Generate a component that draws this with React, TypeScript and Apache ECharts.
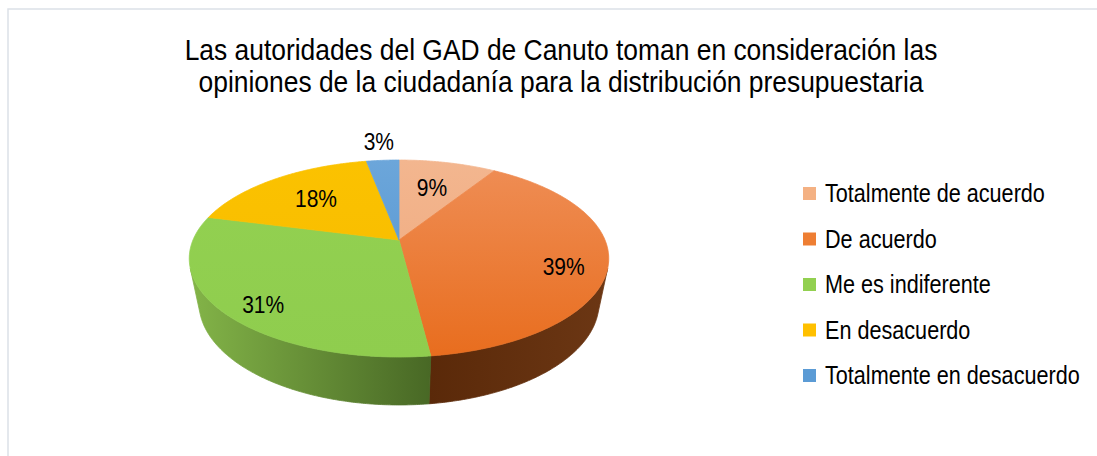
import { useEffect, useRef } from "react";
import * as echarts from "echarts";

// ---------- data ----------
const titleLines = [
  "Las autoridades del GAD de Canuto toman en consideración las",
  "opiniones de la ciudadanía para la distribución presupuestaria",
];
const categories = [
  "Totalmente de acuerdo",
  "De acuerdo",
  "Me es indiferente",
  "En desacuerdo",
  "Totalmente en desacuerdo",
];
const values = [9, 39, 31, 18, 3];
const percentLabels = ["9%", "39%", "31%", "18%", "3%"];

// ---------- styles ----------
const topColors = [
  ["#F3B68F", "#EFA87B"],
  ["#EF8E56", "#E86D1E"],
  ["#93D151", "#8FCD4E"],
  ["#FBC200", "#F7BA00"],
  ["#6CA6DA", "#4F92D0"],
];
const sideColors = [
  ["#9C6A4A", "#8A5A3C"],
  ["#5A2909", "#6C3714"],
  ["#83B448", "#486825"],
  ["#A07A00", "#8A6A00"],
  ["#3A6A96", "#2F5A80"],
];
const legendColors = ["#F4B183", "#EE7E33", "#92D050", "#FFC000", "#5B9BD5"];
const FONT = '"Liberation Sans", Arial, Helvetica, sans-serif';

// ---------- 3D projection of the pie ----------
const CX = 399;
const CY = 240;
const A = 206;
const B = 95;
const K = -0.188;
const M = 0.047;
const C = 46.7;

function pt(phi: number, r: number, h: number): number[] {
  const u = r * Math.sin(phi);
  const v = -r * Math.cos(phi);
  const w = 1 + K * v + M * h;
  return [CX + (A * u) / w, CY + (B * v + C * h) / w];
}

function arc(a: number, b: number, h: number): number[][] {
  const n = Math.max(2, Math.ceil((b - a) / (Math.PI / 360)));
  const out: number[][] = [];
  for (let j = 0; j <= n; j++) out.push(pt(a + ((b - a) * j) / n, 1, h));
  return out;
}

function crossAt(phi: number): number {
  const p = pt(phi, 1, 0);
  const p2 = pt(phi + 1e-4, 1, 0);
  const q = pt(phi, 1, 1);
  return (p2[0] - p[0]) * (q[1] - p[1]) - (p2[1] - p[1]) * (q[0] - p[0]);
}

function silhouette(): number {
  let lo = Math.PI / 2;
  let hi = (Math.PI * 3) / 4;
  for (let i = 0; i < 60; i++) {
    const mid = (lo + hi) / 2;
    if (crossAt(mid) >= 0) lo = mid;
    else hi = mid;
  }
  return (lo + hi) / 2;
}

export default function App() {
  const ref = useRef<HTMLDivElement>(null);

  useEffect(() => {
    if (!ref.current) return;
    const chart = echarts.init(ref.current, null, { renderer: "svg" });

    const total = values.reduce((s, v) => s + v, 0);
    const starts: number[] = [];
    let acc = 0;
    values.forEach((v) => {
      starts.push((acc / total) * Math.PI * 2);
      acc += v;
    });
    const angleOf = (i: number) => [starts[i], starts[i] + (values[i] / total) * Math.PI * 2];
    const phiS = silhouette();
    const visA = phiS;
    const visB = Math.PI * 2 - phiS;

    const seriesData = values.map((v, i) => ({ name: categories[i], value: [i, v] }));

    const option: any = {
      animation: false,
      backgroundColor: "#ffffff",
      graphic: {
        elements: [
          {
            type: "rect",
            z: -10,
            shape: { x: 8, y: 9, width: 1100, height: 460 },
            style: { fill: "none", stroke: "#DCE1E8", lineWidth: 1.5 },
          },
          ...titleLines.map((t, i) => ({
            type: "text",
            x: 561,
            y: 49 + i * 32.5,
            scaleX: 0.88,
            style: {
              text: t,
              fontSize: 30,
              fontFamily: FONT,
              fill: "#000000",
              align: "center",
              verticalAlign: "middle",
            },
          })),
          ...categories.map((name, i) => ({
            type: "group",
            children: [
              {
                type: "rect",
                shape: { x: 803, y: 193.5 + i * 45.5 - 6.5, width: 13, height: 13 },
                style: { fill: legendColors[i] },
              },
              {
                type: "text",
                x: 825,
                y: 193.5 + i * 45.5,
                scaleX: 0.865,
                style: {
                  text: name,
                  fontSize: 25,
                  fontFamily: FONT,
                  fill: "#000000",
                  align: "left",
                  verticalAlign: "middle",
                },
              },
            ],
          })),
        ],
      },
      series: [
        {
          type: "custom",
          name: "sides",
          coordinateSystem: "none",
          silent: true,
          z: 1,
          data: seriesData,
          renderItem: (params: any, api: any) => {
            const i = params.dataIndex;
            const [a0, b0] = angleOf(i);
            const a = Math.max(a0, visA);
            const b = Math.min(b0, visB);
            if (b <= a) return { type: "group", children: [] };
            const topArc = arc(a, b, 0);
            const botArc = arc(a, b, 1).reverse();
            const fill = new echarts.graphic.LinearGradient(0, 0, 1, 0, [
              { offset: 0, color: sideColors[i][0] },
              { offset: 1, color: sideColors[i][1] },
            ]);
            return {
              type: "polygon",
              shape: { points: topArc.concat(botArc) },
              style: { fill, stroke: fill, lineWidth: 0.8, lineJoin: "round" },
            };
          },
        },
        {
          type: "custom",
          name: "tops",
          coordinateSystem: "none",
          silent: true,
          z: 2,
          data: seriesData,
          renderItem: (params: any, api: any) => {
            const i = params.dataIndex;
            const [a, b] = angleOf(i);
            const center = pt(0, 0, 0);
            const pts = [center].concat(arc(a, b, 0));
            const fill = new echarts.graphic.LinearGradient(
              0,
              CY - 80,
              0,
              CY + 117,
              [
                { offset: 0, color: topColors[i][0] },
                { offset: 1, color: topColors[i][1] },
              ],
              true
            );
            const share = api.value(1) / total;
            const mid = (a + b) / 2;
            const large = share >= 0.25;
            const r = share < 0.05 ? 1.29 : large ? 0.8 : 0.64;
            const lp = pt(mid, r, large ? 0.2 : 0);
            return {
              type: "group",
              children: [
                {
                  type: "polygon",
                  shape: { points: pts },
                  style: { fill, stroke: fill, lineWidth: 0.8, lineJoin: "round" },
                },
                {
                  type: "text",
                  x: lp[0],
                  y: lp[1],
                  scaleX: 0.875,
                  z2: 10,
                  style: {
                    text: percentLabels[i],
                    fontSize: 24,
                    fontFamily: FONT,
                    fill: "#000000",
                    align: "center",
                    verticalAlign: "middle",
                  },
                },
              ],
            };
          },
        },
      ],
    };

    chart.setOption(option);
    return () => chart.dispose();
  }, []);

  return (
    <div
      ref={ref}
      style={{ position: "absolute", left: 0, top: 0, width: 1097, height: 456, background: "#fff" }}
    />
  );
}
